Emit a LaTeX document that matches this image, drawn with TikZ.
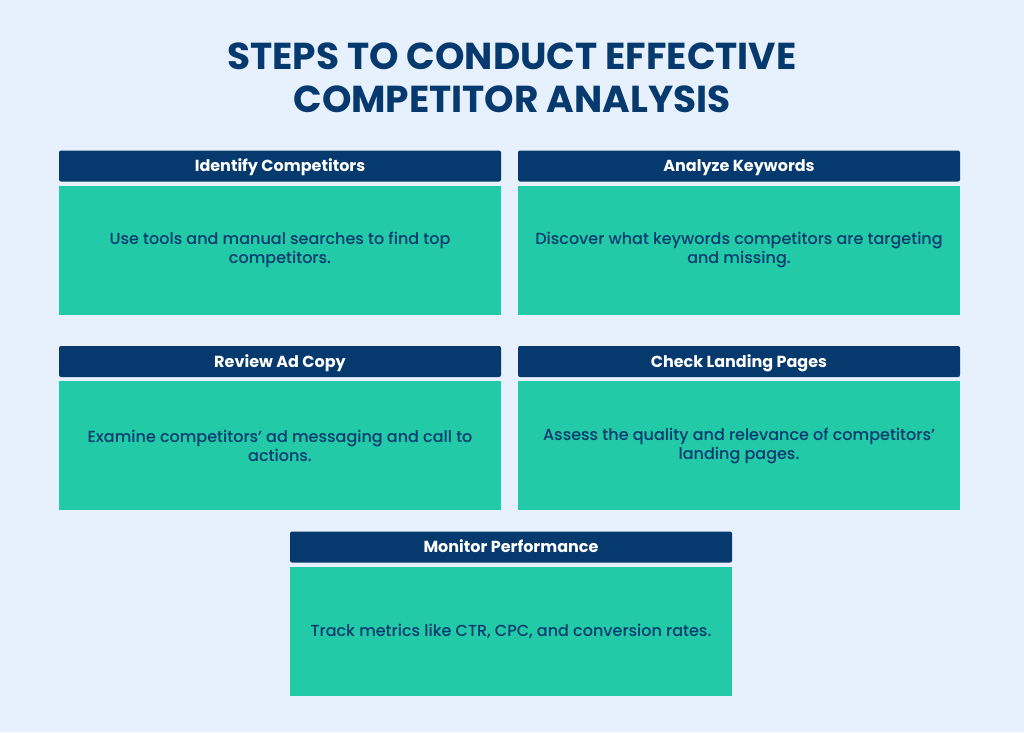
\documentclass[tikz,border=0pt]{standalone}
\usepackage{fontspec}
\setmainfont{Poppins}
\newfontfamily\medfont{Poppins Medium}
\usetikzlibrary{positioning}

\definecolor{navy}{HTML}{063A6E}
\definecolor{mint}{HTML}{22CAA8}
\definecolor{pagebg}{HTML}{E7F0FD}

\tikzset{
  header/.style={fill=navy, rounded corners=2pt, minimum width=442pt, minimum height=31pt,
    inner sep=0pt, text height=14pt, text depth=3pt, text=white,
    font=\bfseries\fontsize{16}{18}\selectfont},
  body/.style={fill=mint, minimum height=129pt, inner sep=11pt, text width=420pt,
    align=flush center, text=navy, font=\medfont\fontsize{16}{19}\selectfont},
  title/.style={align=center, text=navy, font=\bfseries\fontsize{37.5}{43}\selectfont},
}

\begin{document}
\begin{tikzpicture}[x=1pt, y=1pt]
  \fill[pagebg] (0,0) rectangle (1024,-732);

  \node[title] (title) at (512,-78) {STEPS TO CONDUCT EFFECTIVE\\COMPETITOR ANALYSIS};

  % row 1
  \node[header] (identify) at (280,-166) {Identify Competitors};
  \node[body, below=4pt of identify] (identifybody) {Use tools and manual searches to find top competitors.};

  \node[header] (keywords) at (739,-166) {Analyze Keywords};
  \node[body, below=4pt of keywords] (keywordsbody) {Discover what keywords competitors are targeting and missing.};

  % row 2
  \node[header] (adcopy) at (280,-361.5) {Review Ad Copy};
  \node[body, below=4pt of adcopy] (adcopybody) {Examine competitors’ ad messaging and call to actions.};

  \node[header] (landing) at (739,-361.5) {Check Landing Pages};
  \node[body, below=4pt of landing] (landingbody) {Assess the quality and relevance of competitors’ landing pages.};

  % row 3
  \node[header] (monitor) at (511,-547) {Monitor Performance};
  \node[body, below=4pt of monitor] (monitorbody) {Track metrics like CTR, CPC, and conversion rates.};
\end{tikzpicture}
\end{document}
